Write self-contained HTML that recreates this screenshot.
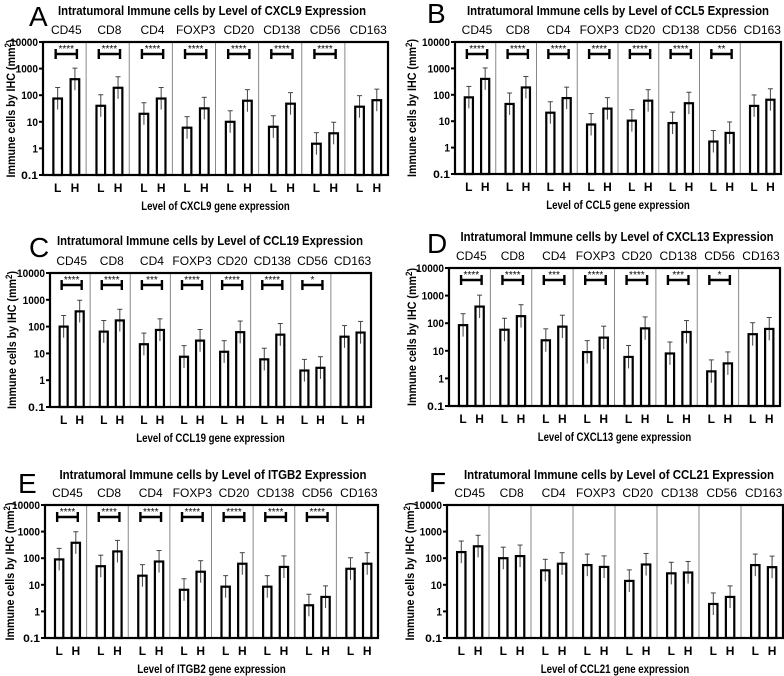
<!DOCTYPE html>
<html><head><meta charset="utf-8"><style>
html,body{margin:0;padding:0;background:#fff;}
svg{display:block;font-family:"Liberation Sans",Arial,sans-serif;}
</style></head><body>
<svg id="fig" width="784" height="676" viewBox="0 0 784 676"></svg>
<script>
const markers = ["CD45","CD8","CD4","FOXP3","CD20","CD138","CD56","CD163"];
const yTicks = [10000,1000,100,10,1,0.1];
const yTickLabels = ["10000","1000","100","10","1","0.1"];
const lowA = [75,40,20,6,10,6.5,1.5,37];
const highA = [400,190,75,32,62,48,3.7,65];
const sigA = ["****","****","****","****","****","****","****",""];
const lowB = [80,45,21,7.5,10.5,8.5,1.7,38];
const highB = [400,190,75,30,60,48,3.6,65];
const sigB = ["****","****","****","****","****","****","**",""];
const lowC = [100,65,22,7.5,11.5,6,2.3,42];
const highC = [370,170,75,30,62,50,2.9,60];
const sigC = ["****","****","***","****","****","****","*",""];
const lowD = [85,58,24,9,6,8,1.8,40];
const highD = [400,180,75,30,65,48,3.5,62];
const sigD = ["****","****","***","****","****","***","*",""];
const lowE = [90,50,22,6.5,8.5,8.5,1.7,40];
const highE = [380,180,75,31,62,47,3.5,62];
const sigE = ["****","****","****","****","****","****","****",""];
const lowF = [170,100,35,55,14,27,1.9,55];
const highF = [280,120,62,47,58,29,3.5,46];
const sigF = ["","","","","","","",""];

const NS="http://www.w3.org/2000/svg";
const svg=document.getElementById('fig');
function mk(tag,attrs,parent){const e=document.createElementNS(NS,tag);for(const k in attrs)e.setAttribute(k,attrs[k]);(parent||svg).appendChild(e);return e;}

const panels=[
 {id:"a",letter:"A",gene:"CXCL9",x0:43,x1:388,y0:42,y1:175,lx:29,ly:26,tx:212,ty:15,tw:308,yt:11,low:lowA,high:highA,sig:sigA},
 {id:"b",letter:"B",gene:"CCL5",x0:455,x1:781,y0:42,y1:174,lx:427,ly:23,tx:618,ty:15,tw:302,yt:412,low:lowB,high:highB,sig:sigB},
 {id:"c",letter:"C",gene:"CCL19",x0:50,x1:371,y0:273,y1:407,lx:29,ly:257,tx:210,ty:245,tw:306,yt:12,low:lowC,high:highC,sig:sigC},
 {id:"d",letter:"D",gene:"CXCL13",x0:449,x1:780,y0:268,y1:406,lx:427,ly:253,tx:617,ty:241,tw:313,yt:412,low:lowD,high:highD,sig:sigD},
 {id:"e",letter:"E",gene:"ITGB2",x0:45,x1:378,y0:505,y1:638,lx:18,ly:493,tx:213,ty:479,tw:307,yt:10,low:lowE,high:highE,sig:sigE},
 {id:"f",letter:"F",gene:"CCL21",x0:447,x1:783,y0:505,y1:638,lx:429,ly:492,tx:619,ty:479,tw:310,yt:410,low:lowF,high:highF,sig:sigF}
];

function drawPanel(p){
 const g=mk('g',{});
 
 
 const yScale=v=>p.y0+(4-Math.log10(v))/5*(p.y1-p.y0);
 const gw=(p.x1-p.x0)/markers.length;
 const xL=i=>p.x0+gw*i+gw*0.34;
 const xH=i=>p.x0+gw*i+gw*0.74;
 const bw=gw*0.2;
 const letter=mk('text',{x:p.lx,y:p.ly,'font-size':28},g);letter.textContent=p.letter;
 
 
 const title=mk('text',{x:p.tx,y:p.ty,'font-size':13,'font-weight':'bold','text-anchor':'middle',textLength:p.tw,lengthAdjust:'spacingAndGlyphs'},g);
 title.textContent="Intratumoral Immune cells by Level of "+p.gene+" Expression";
 
 
 for(let i=1;i<markers.length;i++){
  const s=mk('line',{x1:p.x0+gw*i,x2:p.x0+gw*i,y1:p.y0,y2:p.y1,stroke:'#888','stroke-width':1},g);
  
  
 }
 markers.forEach((m,i)=>{
  const t=mk('text',{x:p.x0+gw*(i+0.54),y:p.y0-8,'font-size':12,'text-anchor':'middle'},g);t.textContent=m;
  
  
  [[p.low[i],xL(i),'L'],[p.high[i],xH(i),'H']].forEach(([v,cx,lab])=>{
   const yb=yScale(v);
   const eb=mk('line',{x1:cx,x2:cx,y1:yScale(v*2.6),y2:yScale(Math.max(v/2.6,0.1)),stroke:'#444','stroke-width':1},g);
   
   
   const cap=mk('line',{x1:cx-2.5,x2:cx+2.5,y1:yScale(v*2.6),y2:yScale(v*2.6),stroke:'#444','stroke-width':1},g);
   
   
   const r=mk('rect',{x:cx-bw/2,y:yb,width:bw,height:p.y1-yb,fill:'none',stroke:'#000','stroke-width':2.2},g);
   
   
   const lt=mk('text',{x:cx,y:p.y1+17,'font-size':12,'font-weight':'bold','text-anchor':'middle'},g);lt.textContent=lab;
   
   
  });
  if(p.sig[i]){
   const by=p.y0+12;
   const br=mk('path',{d:`M${xL(i)-2},${by-5}V${by+5}M${xL(i)-2},${by}H${xH(i)+2}M${xH(i)+2},${by-5}V${by+5}`,stroke:'#000','stroke-width':2.4,fill:'none'},g);
   
   
   const st=mk('text',{x:(xL(i)+xH(i))/2,y:by-2,'font-size':10,'text-anchor':'middle'},g);st.textContent=p.sig[i];
   
   
  }
 });
 const fr=mk('rect',{x:p.x0,y:p.y0,width:p.x1-p.x0,height:p.y1-p.y0,fill:'none',stroke:'#000','stroke-width':2.2},g);
 
 
 yTicks.forEach((v,k)=>{
  const y=yScale(v);
  const tk=mk('line',{x1:p.x0-4,x2:p.x0,y1:y,y2:y,stroke:'#000','stroke-width':2},g);
  
  
  const tl=mk('text',{x:p.x0-5,y:y+4,'font-size':11,'font-weight':'bold','text-anchor':'end',textLength:yTickLabels[k].length*5.6,lengthAdjust:'spacingAndGlyphs'},g);tl.textContent=yTickLabels[k];
  
  
 });
 const cy=(p.y0+p.y1)/2;
 const yt=mk('text',{x:p.yt,y:cy,'font-size':12,'font-weight':'bold','text-anchor':'middle',transform:`rotate(-90 ${p.yt} ${cy})`,dy:4,textLength:138,lengthAdjust:'spacingAndGlyphs'},g);
 yt.innerHTML='Immune cells by IHC (mm<tspan dy="-4" font-size="9">2</tspan><tspan dy="4">)</tspan>';
 
 
 const xs="Level of "+p.gene+" gene expression";
 const xt=mk('text',{x:(p.x0+p.x1)/2,y:p.y1+35,'font-size':12,'font-weight':'bold','text-anchor':'middle',textLength:xs.length*4.95,lengthAdjust:'spacingAndGlyphs'},g);
 xt.textContent=xs;
 
 
}
panels.forEach(drawPanel);
</script>
</body></html>
